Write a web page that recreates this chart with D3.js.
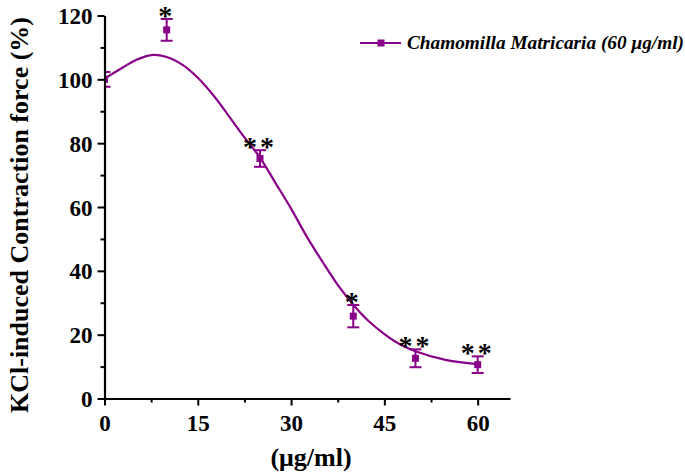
<!DOCTYPE html>
<html>
<head>
<meta charset="utf-8">
<script src="https://cdn.jsdelivr.net/npm/d3@7"></script>
<style>
  html, body { margin: 0; padding: 0; background: #fff; }
  svg { display: block; }
</style>
</head>
<body>
<div id="chart"></div>
<script>
// measured doses and responses
var doses = [0, 10, 25, 40, 50, 60];
var means = [100, 115.5, 75.2, 25.8, 12.6, 10.6];
var errs = [2.3, 3.4, 2.6, 3.5, 2.8, 2.6];
var stars = ["", "*", "**", "*", "**", "**"];
// fitted curve
var fitX = [0, 3, 5, 7.5, 10, 12.5, 15, 17.5, 20, 22.5, 25, 27.5, 30, 32.5, 35, 37.5, 40, 42.5, 45, 47.5, 50, 55, 60];
var fitY = [100.2, 103.8, 106, 107.6, 107, 104.6, 100.5, 95, 88.5, 81.8, 75.5, 67.5, 59.5, 50.8, 43, 35.6, 29.4, 24.2, 20.2, 17, 14.8, 12, 10.8];
var xTicks = [0, 15, 30, 45, 60];
var yTicks = [0, 20, 40, 60, 80, 100, 120];
var seriesName = "Chamomilla Matricaria (60 \u03bcg/ml)";

(function () {
  var W = 685, H = 474;
  var purple = "#880088";
  var font = "'Liberation Serif', 'Times New Roman', serif";

  var svg = d3.select("#chart").append("svg").attr("width", W).attr("height", H);
  var x = d3.scaleLinear().domain([0, 65.2]).range([104.5, 510]);
  var y = d3.scaleLinear().domain([0, 120]).range([398.5, 15.5]);

  svg.append("defs").append("clipPath").attr("id", "plotclip")
    .append("rect").attr("x", x(0)).attr("y", 0).attr("width", 420).attr("height", 400);

  var plot = svg.append("g").attr("clip-path", "url(#plotclip)");

  // fitted curve
  var pts = fitX.map(function (d, i) { return [d, fitY[i]]; });
  plot.append("path").datum(pts)
    .attr("d", d3.line().x(function (d) { return x(d[0]); }).y(function (d) { return y(d[1]); }).curve(d3.curveCatmullRom))
    .attr("fill", "none").attr("stroke", purple).attr("stroke-width", 2.2);

  // error bars
  var data = doses.map(function (d, i) { return { x: d, m: means[i], e: errs[i], s: stars[i] }; });
  var eb = plot.selectAll("g.eb").data(data).enter().append("g").attr("class", "eb");
  eb.append("line").attr("x1", function (d) { return x(d.x); }).attr("x2", function (d) { return x(d.x); })
    .attr("y1", function (d) { return y(d.m + d.e); }).attr("y2", function (d) { return y(d.m - d.e); })
    .attr("stroke", purple).attr("stroke-width", 2);
  [1, -1].forEach(function (sg) {
    eb.append("line").attr("x1", function (d) { return x(d.x) - 6; }).attr("x2", function (d) { return x(d.x) + 6; })
      .attr("y1", function (d) { return y(d.m + sg * d.e); }).attr("y2", function (d) { return y(d.m + sg * d.e); })
      .attr("stroke", purple).attr("stroke-width", 2);
  });
  eb.append("rect").attr("x", function (d) { return x(d.x) - 3.5; }).attr("y", function (d) { return y(d.m) - 3.5; })
    .attr("width", 7).attr("height", 7).attr("fill", purple);

  // significance stars
  svg.selectAll("text.star").data(data.filter(function (d) { return d.s; })).enter().append("text")
    .attr("class", "star")
    .attr("x", function (d) { return x(d.x) - 1.5 + (d.s.length > 1 ? 1.5 : 0); })
    .attr("y", function (d) { return y(d.m + d.e) + 6; })
    .attr("letter-spacing", function (d) { return d.s.length > 1 ? 3 : 0; })
    .attr("text-anchor", "middle").attr("font-family", font).attr("font-size", 28).attr("font-weight", "bold")
    .attr("fill", "#000")
    .text(function (d) { return d.s; });

  // axes
  svg.append("g").attr("transform", "translate(0," + y(0) + ")")
    .call(d3.axisBottom(x).tickValues(xTicks).tickSize(7).tickSizeOuter(0).tickPadding(9));
  svg.append("g").attr("transform", "translate(0," + y(0) + ")")
    .call(d3.axisBottom(x).tickValues([7.5, 22.5, 37.5, 52.5]).tickSize(4).tickFormat("")).select(".domain").remove();
  var yAxis = svg.append("g").attr("transform", "translate(" + x(0) + ",0)")
    .call(d3.axisLeft(y).tickValues(yTicks).tickSize(7).tickSizeOuter(0).tickPadding(5));
  svg.append("g").attr("transform", "translate(" + x(0) + ",0)")
    .call(d3.axisLeft(y).tickValues([10, 30, 50, 70, 90, 110]).tickSize(4).tickFormat("")).select(".domain").remove();

  svg.selectAll(".domain").attr("stroke", "#000").attr("stroke-width", 2.2);
  svg.selectAll(".tick line").attr("stroke", "#000").attr("stroke-width", 2);
  svg.selectAll(".tick text").attr("font-family", font).attr("font-weight", "bold").attr("font-size", 23).attr("fill", "#000");
  yAxis.selectAll(".tick text").attr("dy", "0.35em");

  // axis titles
  svg.append("text").attr("x", 311).attr("y", 466).attr("text-anchor", "middle")
    .attr("font-family", font).attr("font-weight", "bold").attr("font-size", 26).text("(\u03bcg/ml)");
  svg.append("text").attr("transform", "translate(28,215) rotate(-90)").attr("text-anchor", "middle")
    .attr("font-family", font).attr("font-weight", "bold").attr("font-size", 26).text("KCl-induced Contraction force (%)");

  // legend
  var lg = svg.append("g");
  lg.append("line").attr("x1", 360).attr("x2", 401).attr("y1", 43).attr("y2", 43).attr("stroke", purple).attr("stroke-width", 2);
  lg.append("rect").attr("x", 377.5).attr("y", 39.5).attr("width", 7).attr("height", 7).attr("fill", purple);
  lg.append("text").attr("x", 407).attr("y", 48.5).attr("font-family", font).attr("font-weight", "bold")
    .attr("font-style", "italic").attr("font-size", 19.3).text(seriesName);
})();
</script>
</body>
</html>
